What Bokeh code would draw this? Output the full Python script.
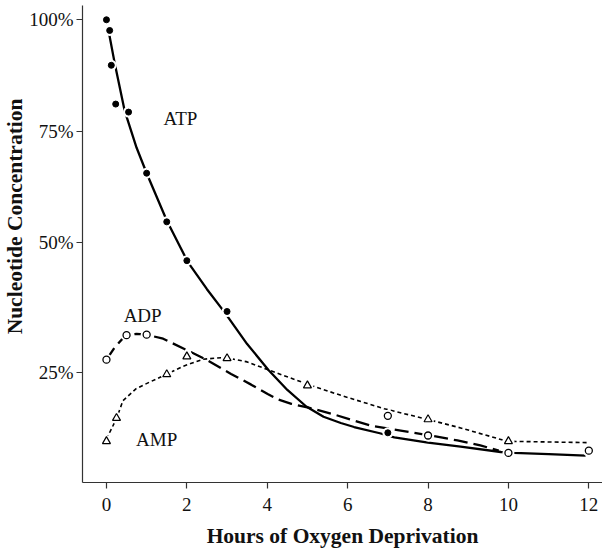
from bokeh.plotting import figure
from bokeh.models import Label, FixedTicker, Range1d, Title
from bokeh.embed import file_html
from bokeh.resources import INLINE

# ---- data ----
# measured points
atp_x = [0, 0.08, 0.12, 0.23, 0.55, 1.0, 1.5, 2.0, 3.0, 7.0]
atp_y = [100, 97.6, 89.8, 81.1, 79.3, 65.6, 54.7, 46.0, 34.6, 7.4]

adp_x = [0, 0.5, 1.0, 7.0, 8.0, 10.0, 12.0]
adp_y = [23.8, 29.3, 29.4, 11.2, 6.8, 2.9, 3.4]

amp_x = [0, 0.25, 1.5, 2.0, 3.0, 5.0, 8.0, 10.0]
amp_y = [5.5, 10.7, 20.5, 24.5, 24.1, 18.0, 10.4, 5.5]

# fitted curves
atp_curve_x = [0.07, 0.2, 0.45, 0.75, 1.0, 1.5, 2.03, 2.5, 2.94, 3.5, 4.03, 4.5,
               4.97, 5.4, 5.83, 6.16, 6.8, 7.16, 8.0, 8.81, 9.81, 10.14, 11.0, 11.92]
atp_curve_y = [96.7, 90.5, 79.7, 71.3, 65.6, 55.0, 45.6, 39.6, 34.4, 27.3, 21.5, 17.0,
               13.3, 11.0, 9.6, 8.7, 7.3, 6.4, 5.2, 4.3, 3.1, 2.9, 2.6, 2.3]

adp_curve_x = [0.0, 0.2, 0.48, 0.75, 1.0, 1.41, 1.94, 2.44, 3.1, 3.6, 4.01, 4.26,
               4.6, 5.0, 5.59, 6.58, 7.32, 7.99, 8.73, 9.3, 9.76]
adp_curve_y = [23.8, 26.5, 29.3, 29.6, 29.4, 28.5, 26.2, 24.0, 20.6, 18.2, 16.1, 14.9,
               13.9, 13.1, 11.7, 9.0, 7.9, 6.9, 5.7, 4.6, 3.4]

amp_curve_x = [0.0, 0.25, 0.41, 0.74, 1.08, 1.49, 1.9, 2.4, 2.95, 3.5, 4.03, 5.0,
               5.83, 6.91, 7.99, 8.81, 9.97, 12.0]
amp_curve_y = [6.0, 10.6, 14.6, 17.3, 18.8, 20.5, 22.3, 23.9, 24.3, 23.3, 21.5, 18.3,
               15.8, 12.8, 10.4, 8.5, 5.5, 5.2]

x_ticks = [0, 2, 4, 6, 8, 10, 12]
y_tick_pos = [21, 50, 75, 100]
y_tick_labels = ["25%", "50%", "75%", "100%"]

SERIF = "Liberation Serif"

p = figure(width=602, height=552,
           x_range=Range1d(-0.596, 12.34), y_range=Range1d(-3.74, 103.2),
           output_backend="svg", toolbar_location=None,
           min_border_left=81, min_border_right=0,
           min_border_top=5, min_border_bottom=70)
p.title.visible = False
p.outline_line_color = None
p.xgrid.visible = False
p.ygrid.visible = False
p.background_fill_color = "white"
p.border_fill_color = "white"

for ax in (p.xaxis, p.yaxis):
    ax.axis_line_color = "#333333"
    ax.axis_line_width = 1.2
    ax.major_tick_line_color = "#333333"
    ax.major_tick_line_width = 1.2
    ax.major_tick_out = 6
    ax.major_tick_in = 0
    ax.minor_tick_out = 0
    ax.minor_tick_in = 0
    ax.major_label_text_font = SERIF
    ax.major_label_text_font_size = "19px"
    ax.major_label_text_color = "#111111"

p.xaxis.ticker = FixedTicker(ticks=x_ticks)
p.xaxis.major_label_standoff = 9
p.xaxis.axis_label = "Hours of Oxygen Deprivation"
p.xaxis.axis_label_text_font = SERIF
p.xaxis.axis_label_text_font_size = "21.5px"
p.xaxis.axis_label_text_font_style = "bold"
p.xaxis.axis_label_text_color = "#111111"
p.xaxis.axis_label_standoff = 10

p.yaxis.ticker = FixedTicker(ticks=y_tick_pos)
p.yaxis.major_label_overrides = {t: s for t, s in zip(y_tick_pos, y_tick_labels)}
p.yaxis.major_label_standoff = 3

# y axis title, positioned from the top of the frame like the reference
p.add_layout(Title(text="Nucleotide Concentration", align="right", offset=93,
                   standoff=0, text_font=SERIF, text_font_size="21.5px",
                   text_font_style="bold", text_color="#111111"), "left")

# curves
p.line(atp_curve_x, atp_curve_y, line_color="black", line_width=2.3)
p.line(adp_curve_x, adp_curve_y, line_color="black", line_width=2.3, line_dash="14 6")
p.line(amp_curve_x, amp_curve_y, line_color="black", line_width=1.6, line_dash="4 3")

# white halos that break the lines around the markers
p.scatter(atp_x, atp_y, marker="circle", size=11, fill_color="white", line_color=None)
p.scatter(adp_x, adp_y, marker="circle", size=12, fill_color="white", line_color=None)
p.scatter(amp_x, amp_y, marker="circle", size=12, fill_color="white", line_color=None)

# markers
p.scatter(atp_x, atp_y, marker="circle", size=6, fill_color="black", line_color="black")
p.scatter(adp_x, adp_y, marker="circle", size=7, fill_color="white",
          line_color="black", line_width=1.3)
p.scatter(amp_x, amp_y, marker="triangle", size=8, fill_color="white",
          line_color="black", line_width=1.2)

# series labels
for txt, lx, ly in [("ATP", 1.84, 77.8), ("ADP", 0.90, 33.7), ("AMP", 1.25, 5.8)]:
    p.add_layout(Label(x=lx, y=ly, text=txt, text_font=SERIF, text_font_size="19px",
                       text_align="center", text_baseline="alphabetic",
                       text_color="#111111"))

open("out.html", "w").write(file_html(p, INLINE))
